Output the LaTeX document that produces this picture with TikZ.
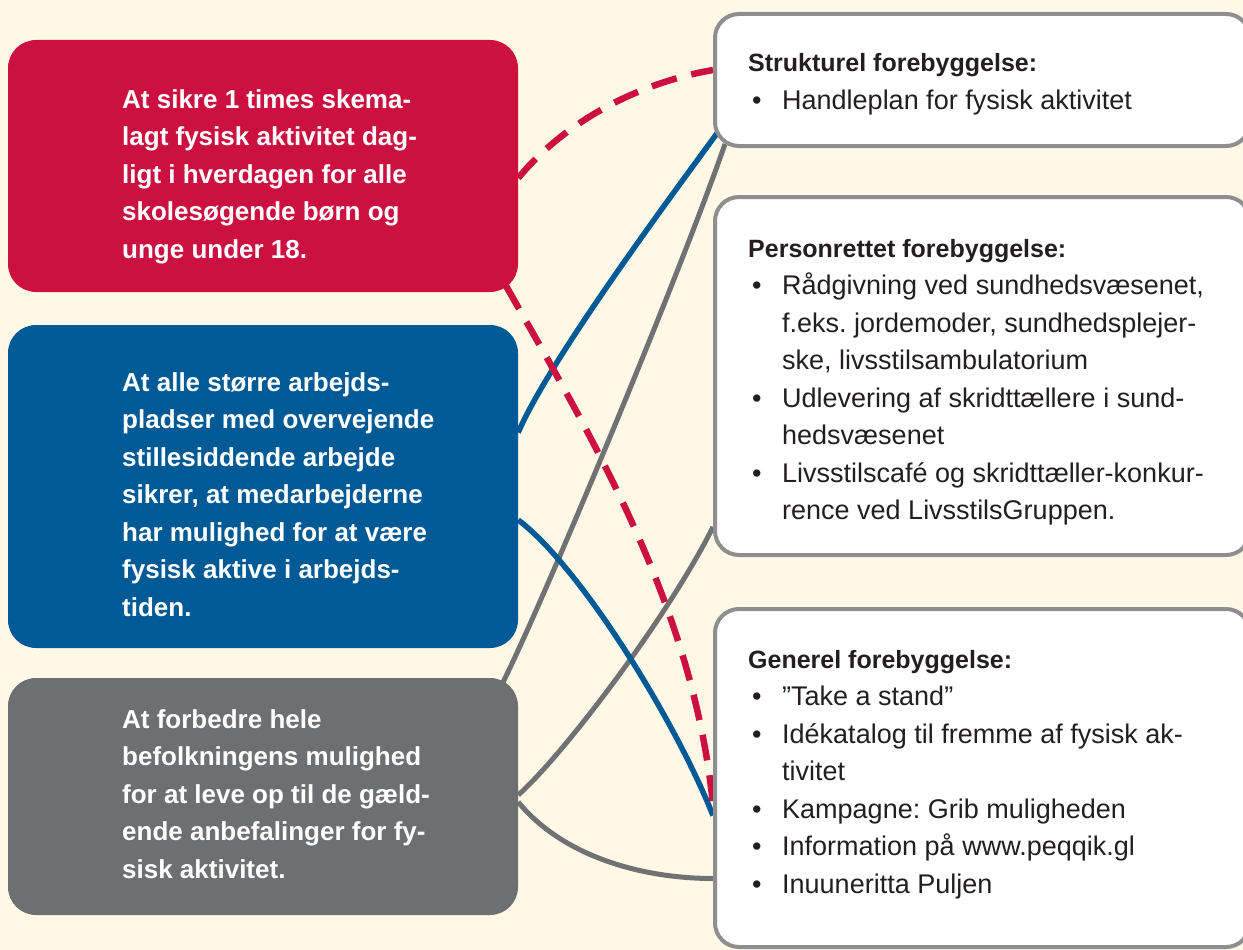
\documentclass[tikz,border=0pt]{standalone}
\usepackage{fontspec}
\setmainfont{Liberation Sans}
\usetikzlibrary{calc}
\definecolor{bgcream}{RGB}{255,248,230}
\definecolor{redbox}{RGB}{204,17,65}
\definecolor{bluebox}{RGB}{0,90,150}
\definecolor{graybox}{RGB}{110,111,113}
\definecolor{framegray}{RGB}{142,142,142}
\definecolor{linegray}{RGB}{112,113,115}
\definecolor{ink}{RGB}{35,31,32}
\pgfdeclarelayer{backlayer}
\pgfdeclarelayer{linelayer}
\pgfsetlayers{backlayer,linelayer,main}
\frenchspacing
\newcommand{\itm}{\makebox[34pt][l]{\hspace{4pt}•}}
\newcommand{\cnt}{\hspace*{34pt}}
\newcommand{\hd}[1]{{\fontsize{25pt}{37.5pt}\selectfont\bfseries #1}}
\newcommand{\rows}[1]{\begin{tabular}[t]{@{}l@{}}#1\end{tabular}}
\begin{document}
\begin{tikzpicture}[x=1pt,y=-1pt,
  leftbox/.style={rounded corners=28pt, minimum width=510pt, inner sep=0pt, draw=none},
  rightbox/.style={rounded corners=24pt, fill=white, draw=framegray, line width=4pt, inner sep=0pt, minimum width=535pt},
  lefttext/.style={anchor=base west, inner sep=0pt, text=white, font=\fontsize{26pt}{37.5pt}\selectfont\bfseries},
  righttext/.style={anchor=base west, inner sep=0pt, text=ink, font=\fontsize{27pt}{37.5pt}\selectfont},
  blueline/.style={draw=bluebox, line width=5.5pt},
  grayline/.style={draw=linegray, line width=5pt},
  reddash/.style={draw=redbox, line width=6.5pt, dash pattern=on 26pt off 15pt}
]
\useasboundingbox (0,0) rectangle (1243,950);
\begin{pgfonlayer}{backlayer}
  \fill[bgcream] (0,0) rectangle (1243,950);
\end{pgfonlayer}

% left boxes
\node[leftbox, fill=redbox, minimum height=252pt] (R) at (263,166) {};
\node[leftbox, fill=bluebox, minimum height=323pt] (B) at (263,486.5) {};
\node[leftbox, fill=graybox, minimum height=237pt] (G) at (263,796.5) {};

% right boxes
\node[rightbox, minimum height=132pt] (S1) at (982.5,80) {};
\node[rightbox, minimum height=358pt] (S2) at (982.5,376) {};
\node[rightbox, minimum height=338pt] (S3) at (982.5,778) {};

% texts
\node[lefttext] (tR) at (122,108) {\rows{At sikre 1 times skema-\\lagt fysisk aktivitet dag-\\ligt i hverdagen for alle\\skolesøgende børn og\\unge under 18.}};
\node[lefttext] (tB) at (122,391) {\rows{At alle større arbejds-\\pladser med overvejende\\stillesiddende arbejde\\sikrer, at medarbejderne\\har mulighed for at være\\fysisk aktive i arbejds-\\tiden.}};
\node[lefttext] (tG) at (122,728) {\rows{At forbedre hele\\befolkningens mulighed\\for at leve op til de gæld-\\ende anbefalinger for fy-\\sisk aktivitet.}};

\node[righttext] (tS1) at (748,72) {\rows{\hd{Strukturel forebyggelse:}\\\itm Handleplan for fysisk aktivitet}};
\node[righttext] (tS2) at (748,257) {\rows{\hd{Personrettet forebyggelse:}\\\itm Rådgivning ved sundhedsvæsenet,\\\cnt f.eks. jordemoder, sundhedsplejer-\\\cnt ske, livsstilsambulatorium\\\itm Udlevering af skridttællere i sund-\\\cnt hedsvæsenet\\\itm Livsstilscafé og skridttæller-konkur-\\\cnt rence ved LivsstilsGruppen.}};
\node[righttext] (tS3) at (748,668) {\rows{\hd{Generel forebyggelse:}\\\itm ”Take a stand”\\\itm Idékatalog til fremme af fysisk ak-\\\cnt tivitet\\\itm Kampagne: Grib muligheden\\\itm Information på www.peqqik.gl\\\itm Inuuneritta Puljen}};

% connectors (behind boxes)
\begin{pgfonlayer}{linelayer}
  \draw[grayline] ([xshift=-15pt,yshift=-4pt]G.north east) .. controls +(40,-80) and +(-45,130) .. ([xshift=12pt,yshift=4pt]S1.south west);
  \draw[grayline] ([yshift=1.5pt]G.east) .. controls +(45,-40) and +(-45,90) .. ([yshift=30pt]S2.south west);
  \draw[grayline] ([yshift=-5.5pt]G.east) .. controls +(45,55) and +(-70,0) .. ([yshift=-100.5pt]S3.west);
  \draw[blueline] ([yshift=54pt]B.east) .. controls +(30,-70) and +(-55,75) .. ([xshift=5pt,yshift=16pt]S1.south west);
  \draw[blueline] ([yshift=-33.5pt]B.east) .. controls +(60,45) and +(-40,-100) .. ([yshift=-37.5pt]S3.west);
  \draw[reddash] ([yshift=-12pt]R.east) .. controls +(50,-60) and +(-70,12) .. ([yshift=10pt]S1.west);
  \draw[reddash] ([xshift=-12pt,yshift=6pt]R.south east) .. controls +(85,150) and +(-20,-200) .. ([yshift=-27pt]S3.west);
\end{pgfonlayer}
\end{tikzpicture}
\end{document}
